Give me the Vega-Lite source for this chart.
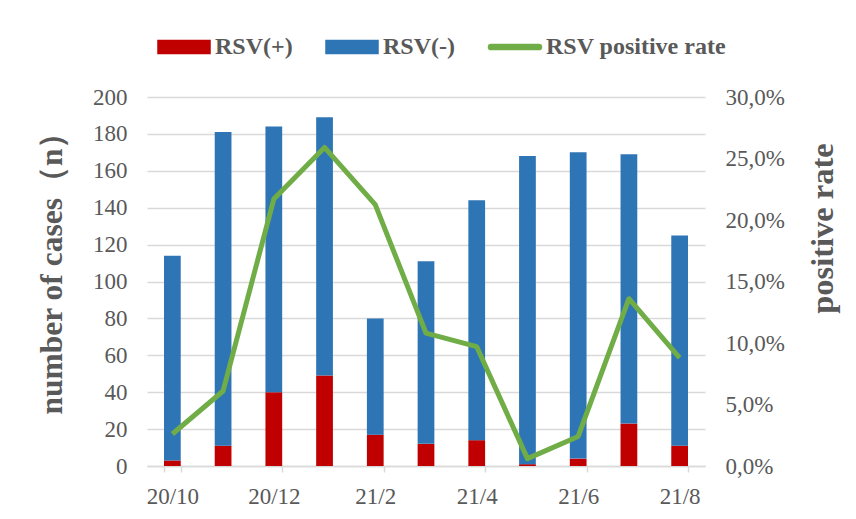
{
  "$schema": "https://vega.github.io/schema/vega-lite/v6.json",
  "width": 558,
  "height": 369,
  "autosize": {"type": "none"},
  "padding": {"left": 147, "top": 97, "right": 151, "bottom": 53},
  "background": "white",
  "config": {
    "view": {"stroke": null},
    "font": "Liberation Serif",
    "axis": {"labelFont": "Liberation Serif", "titleFont": "Liberation Serif", "labelColor": "#595959", "titleColor": "#595959"}
  },
  "data": {
    "values": [
      {"month": "20/10", "RSV(+)": 3, "RSV(-)": 111, "rate": 0.026},
      {"month": "20/11", "RSV(+)": 11, "RSV(-)": 170, "rate": 0.061},
      {"month": "20/12", "RSV(+)": 40, "RSV(-)": 144, "rate": 0.217},
      {"month": "21/1", "RSV(+)": 49, "RSV(-)": 140, "rate": 0.259},
      {"month": "21/2", "RSV(+)": 17, "RSV(-)": 63, "rate": 0.2125},
      {"month": "21/3", "RSV(+)": 12, "RSV(-)": 99, "rate": 0.108},
      {"month": "21/4", "RSV(+)": 14, "RSV(-)": 130, "rate": 0.097},
      {"month": "21/5", "RSV(+)": 1, "RSV(-)": 167, "rate": 0.006},
      {"month": "21/6", "RSV(+)": 4, "RSV(-)": 166, "rate": 0.024},
      {"month": "21/7", "RSV(+)": 23, "RSV(-)": 146, "rate": 0.136},
      {"month": "21/8", "RSV(+)": 11, "RSV(-)": 114, "rate": 0.088}
    ]
  },
  "encoding": {
    "x": {
      "field": "month", "type": "nominal", "sort": null,
      "scale": {"paddingInner": 0.67, "paddingOuter": 0.335},
      "axis": {
        "title": null, "labelAngle": 0,
        "values": ["20/10", "20/12", "21/2", "21/4", "21/6", "21/8"],
        "tickBand": "extent", "ticks": true, "tickSize": 6, "tickColor": "#d9d9d9", "tickWidth": 1.5,
        "domainColor": "#d9d9d9", "domainWidth": 1.5,
        "labelFontSize": 23, "labelPadding": 13, "grid": false
      }
    }
  },
  "layer": [
    {
      "transform": [{"fold": ["RSV(+)", "RSV(-)"], "as": ["series", "count"]}],
      "mark": {"type": "bar"},
      "encoding": {
        "y": {
          "field": "count", "type": "quantitative", "stack": "zero",
          "scale": {"domain": [0, 200]},
          "axis": {
            "title": "number of cases（n）", "titleFontSize": 31.5, "titleFontWeight": "bold", "titlePadding": 24, "titleY": 168,
            "values": [0, 20, 40, 60, 80, 100, 120, 140, 160, 180, 200],
            "labelFontSize": 23, "labelPadding": 20, "ticks": false, "domain": false,
            "grid": true, "gridColor": "#d9d9d9", "gridWidth": 1.5
          }
        },
        "color": {
          "field": "series", "type": "nominal",
          "scale": {"domain": ["RSV(+)", "RSV(-)", "RSV positive rate"], "range": ["#c00000", "#2e75b6", "#70ad47"]},
          "legend": {
            "title": null, "orient": "none", "direction": "horizontal", "legendX": 10, "legendY": -77,
            "labelFont": "Liberation Serif", "labelFontWeight": "bold", "labelFontSize": 24, "labelColor": "#595959",
            "labelLimit": 0,
            "symbolSize": 2704, "labelOffset": 4, "columnPadding": 30,
            "encode": {
              "symbols": {
                "update": {
                  "shape": {"signal": "datum.value === 'RSV positive rate' ? 'M-0.92,-0.1H0.92A0.1,0.1 0 0 1 0.92,0.1H-0.92A0.1,0.1 0 0 1 -0.92,-0.1Z' : 'M-1,-0.25H1V0.25H-1Z'"},
                  "fill": {"scale": "color", "field": "value"},
                  "stroke": {"value": "transparent"},
                  "opacity": {"value": 1}
                }
              }
            }
          }
        },
        "order": {"field": "series", "sort": "ascending"}
      }
    },
    {
      "mark": {"type": "line", "strokeWidth": 5, "strokeJoin": "round", "strokeCap": "butt"},
      "encoding": {
        "y": {
          "field": "rate", "type": "quantitative",
          "scale": {"domain": [0, 0.3]},
          "axis": {
            "orient": "right", "title": "positive rate", "titleFontSize": 32.5, "titleFontWeight": "bold", "titleAngle": 270, "titleBaseline": "top", "titlePadding": 22, "titleY": 131,
            "values": [0, 0.05, 0.1, 0.15, 0.2, 0.25, 0.3],
            "labelExpr": "replace(format(datum.value, '.1%'), '.', ',')",
            "labelFontSize": 23, "labelPadding": 20, "ticks": false, "domain": false, "grid": false
          }
        },
        "color": {"datum": "RSV positive rate", "type": "nominal"}
      }
    }
  ],
  "resolve": {"scale": {"y": "independent"}}
}
